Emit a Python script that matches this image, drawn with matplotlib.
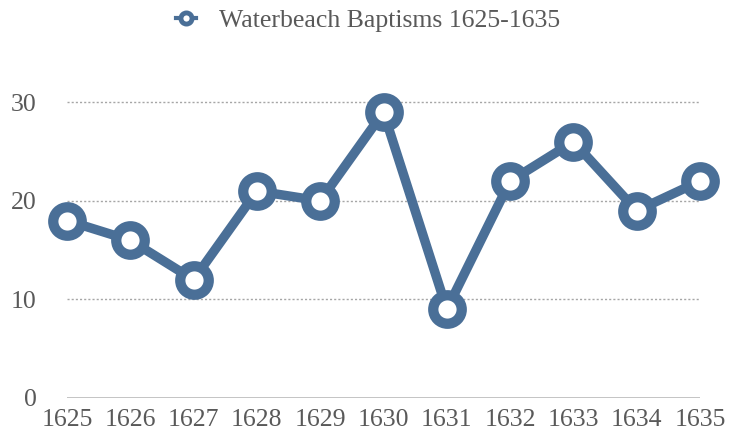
import matplotlib.pyplot as plt
from matplotlib.lines import Line2D

years = ['1625', '1626', '1627', '1628', '1629', '1630',
         '1631', '1632', '1633', '1634', '1635']
baptisms = [18, 16, 12, 21, 20, 29, 9, 22, 26, 19, 22]
yticks = [0, 10, 20, 30]

blue = '#4a6f97'
plt.rcParams['font.family'] = ['Liberation Serif', 'DejaVu Serif']

fig = plt.figure(figsize=(7.3, 4.38), dpi=100)
ax = fig.add_axes([67/730, 40/438, 633/730, 345/438])

x = list(range(len(years)))
ax.plot(x, baptisms, color=blue, lw=6.8, marker='o', ms=20.5,
        mew=7.4, mfc='white', mec=blue, solid_joinstyle='round',
        clip_on=False, zorder=3)

ax.set_xlim(0, len(years) - 1)
ax.set_ylim(0, 35)
ax.set_xticks(x)
ax.set_xticklabels(years)
ax.set_yticks(yticks)

for y in yticks[1:]:
    ax.axhline(y, color='#a6a6a6', lw=1, ls=(0, (1.5, 1.5)), zorder=1)
ax.axhline(0, color='#bfbfbf', lw=2, zorder=1)

for s in ax.spines.values():
    s.set_visible(False)
ax.tick_params(length=0, labelsize=18.5, labelcolor='#595959')
ax.tick_params(axis='y', pad=22)
ax.tick_params(axis='x', pad=8)

handle = Line2D([], [], color=blue, lw=3, marker='o', ms=8, mew=3.5,
                mfc='white', mec=blue)
fig.legend([handle], ['Waterbeach Baptisms 1625-1635'], loc='center',
           bbox_to_anchor=(368/730, 1 - 21/438), frameon=False,
           fontsize=18.5, labelcolor='#595959', handlelength=0.8,
           handletextpad=0.9)

fig.savefig('out.png', dpi=100)
